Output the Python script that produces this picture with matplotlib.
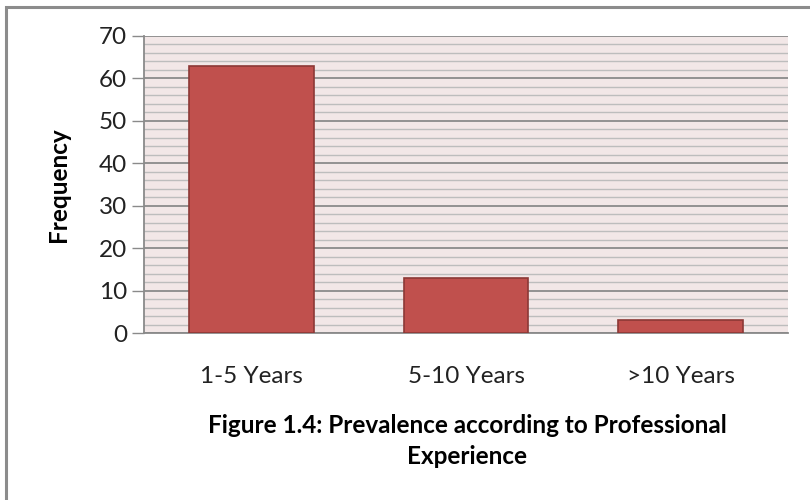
import matplotlib
matplotlib.use("Agg")
import matplotlib.pyplot as plt
from matplotlib.patches import Rectangle
from matplotlib.ticker import MultipleLocator

categories = ["1-5 Years", "5-10 Years", ">10 Years"]
frequency = [63, 13, 3]
y_ticks = [0, 10, 20, 30, 40, 50, 60, 70]

plt.rcParams["font.family"] = ["Lato", "DejaVu Sans"]

fig = plt.figure(figsize=(8.1, 5.0), dpi=100)
fig.patch.set_facecolor("white")

# outer frame of the chart area
fig.add_artist(Rectangle((6 / 810, -0.05), 1.2, 1 - 7 / 500 + 0.05,
                         transform=fig.transFigure, fill=False,
                         edgecolor="#8c8c8c", linewidth=2.2, clip_on=False))

ax = fig.add_axes([144 / 810, 1 - 333 / 500, (788 - 144) / 810, (333 - 36) / 500])
ax.set_facecolor("#f2e7e7")

x = range(len(categories))
ax.bar(x, frequency, width=0.58, color="#c0504d", edgecolor="#8c3836",
       linewidth=1.2, zorder=3)

ax.set_xlim(-0.5, len(categories) - 0.5)
ax.set_ylim(0, 70)
ax.set_yticks(y_ticks)
ax.yaxis.set_minor_locator(MultipleLocator(2))
ax.grid(axis="y", which="major", color="#8a8a8a", linewidth=1.3, zorder=1)
ax.grid(axis="y", which="minor", color="#bdbdbd", linewidth=1.0, zorder=1)
ax.set_axisbelow(True)

ax.set_xticks(list(x))
ax.set_xticklabels(categories, fontsize=17.5, color="#222222")
ax.tick_params(axis="x", length=0, pad=23.5)
ax.tick_params(axis="y", which="major", length=9, width=1, color="#8a8a8a",
               labelsize=17.5, labelcolor="#222222", pad=3)
ax.tick_params(axis="y", which="minor", length=0)

for side in ["top", "right"]:
    ax.spines[side].set_visible(False)
for side in ["left", "bottom"]:
    ax.spines[side].set_color("#8a8a8a")
    ax.spines[side].set_linewidth(1.3)

fig.text(58 / 810, 1 - 185 / 500, "Frequency", rotation=90, ha="center",
         va="center", fontsize=17.5, fontweight="bold", color="black")

fig.text(467 / 810, 1 - 441 / 500,
         "Figure 1.4: Prevalence according to Professional\nExperience",
         ha="center", va="center", fontsize=17.5, fontweight="bold",
         color="black", linespacing=1.45)

fig.savefig("out.png", dpi=100, facecolor="white")
